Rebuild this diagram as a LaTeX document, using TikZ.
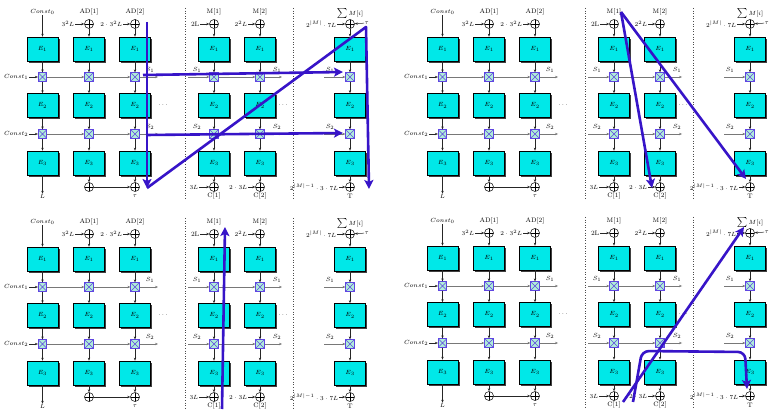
\documentclass[tikz,border=0pt]{standalone}
\usetikzlibrary{arrows.meta,shadows}
\definecolor{eboxc}{RGB}{0,232,232}
\definecolor{mixfill}{RGB}{175,238,215}
\definecolor{mixdraw}{RGB}{95,70,225}
\definecolor{hl}{RGB}{55,20,200}
\definecolor{lgray}{RGB}{120,120,120}
\begin{document}
\begin{tikzpicture}[x=1pt,y=-1pt,
  ebox/.style={draw=black, fill=eboxc, minimum width=31pt, minimum height=24pt, inner sep=0pt, line width=0.6pt,
    font=\fontsize{6}{7}\selectfont,
    drop shadow={shadow xshift=1.6pt, shadow yshift=-1.6pt, fill=black!75, opacity=1}},
  mix/.style={draw=mixdraw, fill=mixfill, minimum size=8.5pt, inner sep=0pt, line width=0.7pt,
    path picture={\draw[mixdraw, line width=0.4pt] (path picture bounding box.south west) -- (path picture bounding box.north east)
      (path picture bounding box.north west) -- (path picture bounding box.south east);}},
  xo/.style={circle, draw, minimum size=9pt, inner sep=0pt, line width=0.5pt,
    path picture={\draw[line width=0.5pt] (path picture bounding box.north) -- (path picture bounding box.south)
      (path picture bounding box.west) -- (path picture bounding box.east);}},
  lbl/.style={font=\fontsize{6.5}{7}\selectfont, inner sep=0.5pt},
  ar/.style={-{Stealth[length=3pt,width=2.4pt]}, line width=0.5pt, draw=black!85},
  gar/.style={-{Stealth[length=3pt,width=2.4pt]}, line width=0.8pt, draw=lgray},
  hlar/.style={draw=hl, line width=2.6pt, line join=round, -{Stealth[length=9pt,width=9pt,inset=2pt]}},
  sep/.style={dotted, line width=0.6pt, draw=black!70}
]
\useasboundingbox (0,0) rectangle (773,411);
\fill[white] (0,0) rectangle (773,411);
\foreach \p/\dx/\dy in {A/0/0,B/400/0,C/0/210,D/400/209}{
\begin{scope}[shift={(\dx,\dy)}]
  \foreach \c/\x in {1/42.5,2/89,3/135,4/214,5/260,6/350}{
    \node[ebox] (\p-E1-\c) at (\x,49) {$E_1$};
    \node[ebox] (\p-E2-\c) at (\x,105.5) {$E_2$};
    \node[ebox] (\p-E3-\c) at (\x,163) {$E_3$};
    \node[mix] (\p-M1-\c) at (\x,77) {};
    \node[mix] (\p-M2-\c) at (\x,134) {};
    \draw[ar] (\p-E1-\c) -- (\p-M1-\c);
    \draw[ar] (\p-M1-\c) -- (\p-E2-\c);
    \draw[ar] (\p-E2-\c) -- (\p-M2-\c);
    \draw[ar] (\p-M2-\c) -- (\p-E3-\c);
  }
  \foreach \c/\x in {2/89,3/135,4/214,5/260,6/350}{
    \node[xo] (\p-T-\c) at (\x,24) {};
    \node[xo] (\p-B-\c) at (\x,187) {};
    \draw[ar] (\p-T-\c) -- (\p-E1-\c);
    \draw[ar] (\p-E3-\c) -- (\p-B-\c);
  }
  % separators and dots
  \draw[sep] (185,8) -- (185,200);
  \draw[sep] (293,8) -- (293,200);
  \node[lbl] at (163,105) {$\cdots$};
  \node[lbl] at (283,105) {$\cdots$};
  % column 1
  \node[lbl] (\p-K0) at (42.5,12) {$Const_0$};
  \draw[ar] (\p-K0) -- (\p-E1-1);
  \node[lbl] (\p-L) at (42.5,196.5) {$L$};
  \draw[ar] (\p-E3-1) -- (\p-L);
  \node[lbl, anchor=east] (\p-K1) at (29,77) {$Const_1$};
  \node[lbl, anchor=east] (\p-K2) at (29,134) {$Const_2$};
  \draw[ar] (\p-K1) -- (\p-M1-1);
  \draw[ar] (\p-K2) -- (\p-M2-1);
  % AD columns
  \node[lbl] at (89,12) {AD[1]};
  \node[lbl] at (135,12) {AD[2]};
  \node[lbl, anchor=east] (\p-I2) at (75,24) {$3^2L$};
  \node[lbl, anchor=east] (\p-I3) at (123,24) {$2\cdot 3^2L$};
  \draw[ar] (\p-I2) -- (\p-T-2);
  \draw[ar] (\p-I3) -- (\p-T-3);
  \foreach \r/\y in {1/77,2/134}{
    \draw[gar] (\p-M\r-1) -- (\p-M\r-2);
    \draw[gar] (\p-M\r-2) -- (\p-M\r-3);
    \coordinate (\p-So\r a) at (158,\y);
    \draw[gar] (\p-M\r-3) -- (\p-So\r a);
    \node[lbl] at (150,\y-7) {$S_\r$};
    \coordinate (\p-Si\r a) at (188,\y);
    \node[lbl] at (197,\y-7) {$S_\r$};
    \draw[gar] (\p-Si\r a) -- (\p-M\r-4);
    \draw[gar] (\p-M\r-4) -- (\p-M\r-5);
    \coordinate (\p-So\r b) at (282,\y);
    \node[lbl] at (277,\y-7) {$S_\r$};
    \draw[gar] (\p-M\r-5) -- (\p-So\r b);
    \coordinate (\p-Si\r b) at (324,\y);
    \node[lbl] at (330,\y-7) {$S_\r$};
    \draw[gar] (\p-Si\r b) -- (\p-M\r-6);
  }
  \node[lbl] (\p-Bs) at (135,196) {$\tau$};
  \draw[ar] (\p-B-2) -- (\p-B-3);
  % message columns
  \node[lbl] at (214,12) {M[1]};
  \node[lbl] at (260,12) {M[2]};
  \node[lbl] at (350,14) {$\textstyle\sum M[i]$};
  \node[lbl, anchor=east] (\p-I4) at (200,24) {2L};
  \node[lbl, anchor=east] (\p-I5) at (248,24) {$2^2L$};
  \node[lbl, anchor=east] (\p-I6) at (337,24) {$2^{|M|}\cdot 7L$};
  \node[lbl, anchor=west] (\p-tau) at (364,23) {$\tau$};
  \draw[ar] (\p-I4) -- (\p-T-4);
  \draw[ar] (\p-I5) -- (\p-T-5);
  \draw[ar] (\p-I6) -- (\p-T-6);
  \draw[ar] (\p-tau) -- (\p-T-6);
  \node[lbl, anchor=east] (\p-O4) at (199,187) {$3L$};
  \node[lbl, anchor=east] (\p-O5) at (248,187) {$2\cdot 3L$};
  \node[lbl, anchor=east] (\p-O6) at (339,187) {$2^{|M|-1}\cdot 3\cdot 7L$};
  \draw[ar] (\p-O4) -- (\p-B-4);
  \draw[ar] (\p-O5) -- (\p-B-5);
  \draw[ar] (\p-O6) -- (\p-B-6);
  \node[lbl] at (214,196) {C[1]};
  \node[lbl] at (260,196) {C[2]};
  \node[lbl] at (350,196) {T};
\end{scope}
}
% ---- highlight arrows, panel A
\coordinate (a1) at (147,22);
\coordinate (a2) at (147,188);
\coordinate (a3) at (366,27);
\coordinate (a4) at (369,189);
\draw[hlar] (a1) -- (a2);
\draw[hlar] (a2) -- (a3) -- (a4);
\coordinate (h1) at (143,75);
\coordinate (h2) at (343,72);
\coordinate (h3) at (146,135);
\coordinate (h4) at (343,133);
\draw[hlar] (h1) -- (h2);
\draw[hlar] (h3) -- (h4);
% panel B
\coordinate (b0) at (621,12);
\coordinate (b1) at (652,188);
\coordinate (b2) at (746,179);
\draw[hlar] (b0) -- (b1);
\draw[hlar] (b0) -- (b2);
% panel C
\coordinate (c0) at (222,409);
\coordinate (c1) at (225,227);
\draw[hlar] (c0) -- (c1);
% panel D
\coordinate (d0) at (623,402);
\coordinate (d1) at (744,227);
\draw[hlar] (d0) -- (d1);
\coordinate (d2) at (633,402);
\coordinate (d3) at (642,351);
\coordinate (d4) at (745,352);
\coordinate (d5) at (747,389);
\draw[hlar, rounded corners=7pt] (d2) -- (d3) -- (d4) -- (d5);
\end{tikzpicture}
\end{document}
